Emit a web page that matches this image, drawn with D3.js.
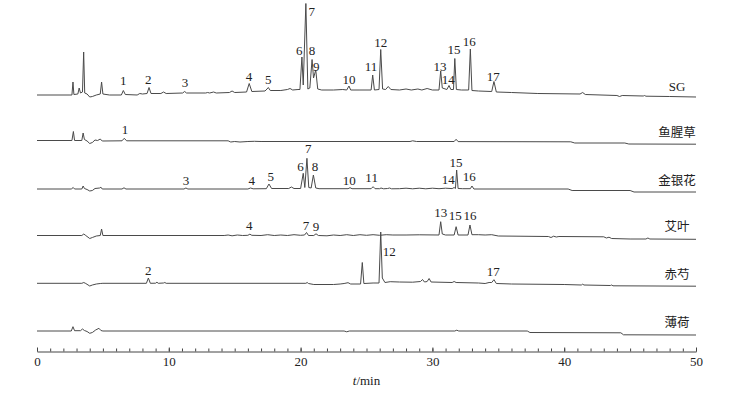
<!DOCTYPE html>
<html lang="zh">
<head>
<meta charset="utf-8"/>
<title>HPLC chromatogram</title>
<style>
  body { margin: 0; background: #fff; }
  svg { display: block; }
  .trace { fill: none; stroke: #4a4a4a; stroke-width: 1; }
  .peak { font-family: "Liberation Serif", "Times New Roman", serif; font-size: 13px; fill: #222; }
  .name { font-family: "Noto Sans CJK SC", sans-serif; font-size: 12.5px; fill: #222; }
  .sg { font-family: "Liberation Serif", serif; font-size: 13px; }
  .axis path, .axis line { stroke: #444; }
  .axis text { font-family: "Liberation Serif", serif; font-size: 13px; fill: #222; }
</style>
</head>
<body>
<svg width="736" height="395"></svg>
<script src="https://d3js.org/d3.v7.min.js"></script>
<script>

// sample names, top to bottom
var names = ["SG", "鱼腥草", "金银花", "艾叶", "赤芍", "薄荷"];

// [time (min), signal], signal relative to its row
var sgData = [[0,1],[2.5,1],[2.65,1],[2.73,14],[2.8,1.5],[3.1,2],[3.2,8],[3.3,3],[3.45,4],[3.54,44],[3.62,3],
  [3.8,2],[4.0,-1],[4.2,-0.5],[4.5,1],[4.8,2],[4.9,14],[5.0,2],[5.5,1],[6.4,1],[6.55,5.5],[6.7,1.5],
  [7.6,1],[7.8,2.5],[8.0,2],[8.35,2.5],[8.5,8.5],[8.65,2.5],[9.4,2.5],[9.6,4],[9.8,2.5],
  [11.05,3],[11.2,4.5],[11.35,3],[12.8,3],[12.95,3.5],[13.1,3],[13.4,4],[13.6,3],[14.6,3.5],[14.8,5],[15.0,3.5],
  [15.9,4],[16.1,12.5],[16.3,4.5],[17.3,5],[17.45,7],[17.55,8.5],[17.7,5.5],[18.5,5.5],[19.0,6.5],[19.2,7.5],
  [19.4,6],[19.8,6.5],[19.95,6.5],[20.1,39],[20.2,11],[20.4,92.5],[20.55,7],[20.7,8],[20.87,36.5],[20.98,18],
  [21.15,26],[21.3,7],[21.6,6],[22.5,6],[23.2,6.5],[23.5,6],[23.67,10],[23.8,6],[24.5,6],[25.35,6],[25.47,21],
  [25.6,6],[25.95,6.5],[26.08,46.5],[26.22,7],[26.45,6.5],[26.65,9.5],[26.85,6.5],[27.5,6],[28.0,7],[28.4,6],
  [28.9,7],[29.2,6],[29.6,7.5],[30.0,6],[30.5,6],[30.63,25],[30.75,8],[31.1,6.5],[31.26,10.5],[31.4,6.5],
  [31.6,6.5],[31.7,37.5],[31.82,6.5],[32.2,6],[32.75,6],[32.88,47],[33.0,5.5],[33.5,5],[34.5,4.5],[34.67,14.5],
  [34.85,4],[36,3.5],[38,2.5],[41.2,2],[41.4,3.5],[41.6,1.5],[44,0.5],[44.2,-0.5],[44.4,0.5],[46,0],[46.1,0.5],
  [46.2,-0.2],[48,-0.5],[50,-1]];

var yxcData = [[0,0.5],[2.65,0.5],[2.76,9.5],[2.85,0.5],[3.4,0.5],[3.5,8],[3.6,1.5],[3.8,0],[4.0,-2.5],
  [4.2,-1.5],[4.4,1],[4.6,0.5],[4.8,2],[4.95,0],[6.45,0.2],[6.62,2.7],[6.8,0.2],[14.5,0.2],[14.7,-1],[15.0,-0.5],
  [15.4,-1],[16.0,-0.5],[16.5,-0.3],[17,-0.5],[28.3,-0.5],[28.5,0.2],[28.8,-0.5],[31.65,-0.5],[31.8,1.7],
  [31.95,-0.6],[40.5,-0.8],[40.8,-2],[44.6,-2],[44.9,-3],[50,-3.2]];

var jyhData = [[0,0],[2.6,0],[2.75,1.5],[2.85,0],[3.4,0],[3.5,3],[3.6,0.5],[3.8,-0.5],[4.0,-2],[4.2,-1.5],
  [4.4,0.5],[4.75,1],[4.85,1.8],[4.95,0],[6.45,0],[6.6,1.2],[6.75,0],[11.15,0],[11.3,1],[11.45,0],[16.0,0],
  [16.2,1],[16.4,0.2],[17.4,0.3],[17.6,5],[17.8,0.5],[19.1,0.5],[19.3,2],[19.5,0.5],[20.0,0.5],[20.2,15.7],
  [20.32,1.5],[20.48,30.7],[20.62,1.5],[20.8,1],[20.97,14],[21.15,1],[21.4,0.3],[23.6,0.3],[23.75,1.3],
  [23.9,0.3],[25.35,0.3],[25.5,2.3],[25.65,0.3],[26.0,0.3],[26.1,1],[26.3,0.2],[26.6,0.5],[26.75,1],[26.9,0.2],
  [27.5,0.3],[28.0,0.8],[28.5,0.2],[29.0,0.8],[29.5,0.2],[30.0,0.8],[30.5,0.3],[31.0,0.8],[31.5,0.4],
  [31.65,1.5],[31.75,0.5],[31.84,19],[31.95,0.5],[32.3,0.3],[32.88,0.3],[33.0,3],[33.15,0],[40.3,0],
  [40.6,-1.5],[45.0,-1.5],[45.3,-3],[50,-3]];

var ayData = [[0,-0.5],[3.4,-0.5],[3.55,1],[3.7,-0.5],[4.0,-3.5],[4.2,-2.5],[4.5,-1],[4.8,-0.5],[4.9,6],
  [5.0,-0.5],[14.2,-0.5],[14.5,0],[14.8,-0.8],[15.2,0],[15.6,-0.5],[16.0,-0.3],[16.15,0.8],[16.3,-0.3],
  [17.0,-0.5],[17.5,0.3],[18,-0.5],[18.5,0],[19.0,-0.5],[19.5,0.3],[20.0,-0.3],[20.3,0],[20.45,2.5],[20.6,-0.5],
  [21.0,-0.5],[21.17,1.2],[21.35,-0.5],[22.0,-0.8],[22.5,0],[23.0,-0.5],[23.5,0.3],[24,-0.5],[24.5,0.3],
  [25,-0.3],[25.5,0.3],[26,-0.3],[26.5,0.3],[27,0],[28,0],[29,0.2],[30.5,0],[30.63,13.3],[30.75,1],[31.0,0],
  [31.65,0],[31.8,8.3],[31.95,0],[32.7,0],[32.85,10],[33.0,0.3],[33.5,0.3],[34,0],[34.5,0.3],[35,-1],
  [38.8,-1.5],[39.0,-2.5],[39.2,-1.2],[39.4,-2],[39.6,-1.5],[43.0,-1.8],[43.2,-3],[43.4,-2.2],[43.6,-3.5],
  [45,-4],[46.2,-4],[46.35,-3],[46.5,-4],[50,-4.3]];

var csData = [[0,-0.3],[3.4,-0.3],[3.55,0.5],[3.7,-0.5],[4.0,-3],[4.2,-2],[4.5,-1],[4.8,-0.5],[5.0,-0.3],
  [8.3,-0.3],[8.45,5],[8.6,-0.3],[9.0,-0.2],[9.1,0.8],[9.2,-0.3],[9.6,0],[9.7,0.5],[9.8,-0.3],[20.4,-0.3],
  [20.5,0.5],[20.6,-0.5],[21.0,-1.5],[22.5,-1.5],[23.0,-1],[23.3,-0.5],[23.6,0.3],[23.8,-1],[24.55,-1],
  [24.68,20.5],[24.8,-0.5],[25.5,0],[25.95,0],[26.08,51],[26.2,5],[26.4,0.5],[26.8,1.3],[27.5,1],[28.5,0.8],
  [29.1,1.5],[29.25,3.5],[29.4,1],[29.6,1.5],[29.75,4.5],[29.9,1],[31.5,0.5],[31.65,1.5],[31.8,0.5],[33.5,0],
  [34.0,-0.5],[34.3,0.5],[34.5,0.5],[34.67,3.3],[34.85,-0.5],[36.0,-1],[40.0,-1.5],[41.3,-2],[41.4,-1.2],
  [41.5,-2],[43.5,-2.5],[43.6,-2],[43.7,-2.8],[50,-3.2]];

var bhData = [[0,0],[2.6,0],[2.73,4.3],[2.85,0.3],[3.3,0.3],[3.45,2],[3.6,0.5],[3.8,-0.5],[4.0,-2.3],
  [4.2,-1.5],[4.45,1],[4.7,2.7],[4.85,0.5],[5.0,0],[23.3,0],[23.5,-0.8],[23.7,0],[31.7,0],[31.85,0.8],
  [32.0,0],[37.2,0],[37.4,-1.5],[44.3,-1.8],[44.5,-3.8],[50,-4]];

// peak numbers: [label, time, signal height of the label]
var sgPeaks = [["1",6.55,15.3],["2",8.44,16.7],["3",11.23,13.3],["4",16.08,20],["5",17.55,16.7],
  ["6",19.9,46],["7",20.84,85],["8",20.86,46],["9",21.19,30],["10",23.67,17],["11",25.34,30],
  ["12",26.08,53.7],["13",30.58,30],["14",31.2,17],["15",31.64,46.7],["16",32.8,55],["17",34.62,20]];
var yxcPeaks = [["1",6.68,11.7]];
var jyhPeaks = [["3",11.3,8.3],["4",16.29,8.3],["5",17.73,12.3],["6",20.0,23],["7",20.58,40.7],
  ["8",21.09,23],["10",23.7,9],["11",25.39,11.3],["14",31.2,9.7],["15",31.79,26.7],["16",32.8,12.3]];
var ayPeaks = [["4",16.11,10],["7",20.41,10],["9",21.17,8.3],["13",30.63,22.7],["15",31.74,19.3],["16",32.85,19.3]];
var csPeaks = [["2",8.44,12.3],["12",26.73,32],["17",34.62,12]];
var bhPeaks = [];

var xTicks = [0, 10, 20, 30, 40, 50];

var series = [sgData, yxcData, jyhData, ayData, csData, bhData];
var peaks = [sgPeaks, yxcPeaks, jyhPeaks, ayPeaks, csPeaks, bhPeaks];

var svg = d3.select("svg"),
    rowY = [96, 141, 189, 235, 283, 331],
    axisY = 351.5;

var x = d3.scaleLinear().domain([0, 50]).range([37, 696]);
var y = d3.scaleLinear().domain([0, 100]).range([0, -100]);

var line = d3.line()
    .x(function(d) { return x(d[0]); })
    .y(function(d) { return y(d[1]); });

var rows = svg.selectAll("g.row")
    .data(names)
    .enter().append("g")
      .attr("class", "row")
      .attr("transform", function(d, i) { return "translate(0," + rowY[i] + ")"; });

rows.append("path")
    .attr("class", "trace")
    .attr("d", function(d, i) { return line(series[i]); });

rows.append("text")
    .attr("class", function(d, i) { return i == 0 ? "name sg" : "name"; })
    .attr("x", 677)
    .attr("y", -9.5)
    .attr("text-anchor", "middle")
    .attr("dominant-baseline", "central")
    .text(function(d) { return d; });

rows.each(function(d, i) {
  d3.select(this).selectAll("text.peak")
    .data(peaks[i])
    .enter().append("text")
      .attr("class", "peak")
      .attr("x", function(p) { return x(p[1]); })
      .attr("y", function(p) { return y(p[2]); })
      .attr("text-anchor", "middle")
      .attr("dominant-baseline", "central")
      .text(function(p) { return p[0]; });
});

// time axis, ticks pointing up
svg.append("g")
    .attr("class", "axis")
    .attr("transform", "translate(0," + axisY + ")")
    .call(d3.axisBottom(x).tickValues(d3.range(0, 51, 1)).tickSizeInner(-3).tickSizeOuter(0).tickFormat(""));

svg.append("g")
    .attr("class", "axis")
    .attr("transform", "translate(0," + axisY + ")")
    .call(d3.axisBottom(x).tickValues(xTicks).tickSizeInner(-4).tickSizeOuter(0).tickPadding(5))
    .select(".domain").remove();

var xt = svg.append("text")
    .attr("class", "peak")
    .attr("x", x(25))
    .attr("y", 380)
    .attr("text-anchor", "middle")
    .attr("dominant-baseline", "central");
xt.append("tspan").attr("font-style", "italic").text("t");
xt.append("tspan").text("/min");

</script>
</body>
</html>
